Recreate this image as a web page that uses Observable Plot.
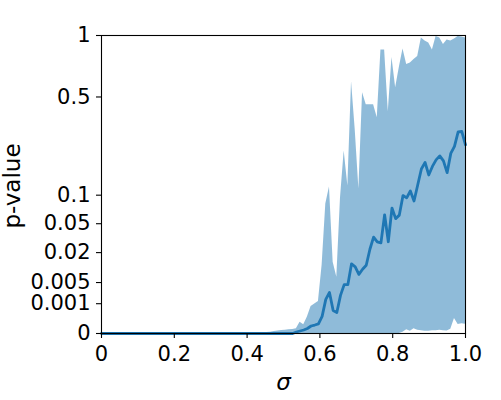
<!DOCTYPE html>
<html><head><meta charset="utf-8">
<script src="https://cdn.jsdelivr.net/npm/d3@7"></script>
<script src="https://cdn.jsdelivr.net/npm/@observablehq/plot@0.6"></script>
<style>html,body{margin:0;padding:0;background:#fff;}</style>
</head><body><div id="chart"></div>
<script>
const sigma = [
  0, 0.0101, 0.0202, 0.0303, 0.0404, 0.0505, 0.0606, 0.0707, 0.0808, 0.0909,
  0.1010, 0.1111, 0.1212, 0.1313, 0.1414, 0.1515, 0.1616, 0.1717, 0.1818, 0.1919,
  0.2020, 0.2121, 0.2222, 0.2323, 0.2424, 0.2525, 0.2626, 0.2727, 0.2828, 0.2929,
  0.3030, 0.3131, 0.3232, 0.3333, 0.3434, 0.3535, 0.3636, 0.3737, 0.3838, 0.3939,
  0.4040, 0.4141, 0.4242, 0.4343, 0.4444, 0.4545, 0.4646, 0.4747, 0.4848, 0.4949,
  0.5051, 0.5152, 0.5253, 0.5354, 0.5455, 0.5556, 0.5657, 0.5758, 0.5859, 0.5960,
  0.6061, 0.6162, 0.6263, 0.6364, 0.6465, 0.6566, 0.6667, 0.6768, 0.6869, 0.6970,
  0.7071, 0.7172, 0.7273, 0.7374, 0.7475, 0.7576, 0.7677, 0.7778, 0.7879, 0.7980,
  0.8081, 0.8182, 0.8283, 0.8384, 0.8485, 0.8586, 0.8687, 0.8788, 0.8889, 0.8990,
  0.9091, 0.9192, 0.9293, 0.9394, 0.9495, 0.9596, 0.9697, 0.9798, 0.9899, 1
];
const pMean = [
  0, 0, 0, 0, 0, 0, 0, 0, 0, 0,
  0, 0, 0, 0, 0, 0, 0, 0, 0, 0,
  0, 0, 0, 0, 0, 0, 0, 0, 0, 0,
  0, 0, 0, 0, 0, 0, 0, 0, 0, 0,
  0, 0, 0, 0, 0, 0, 0, 0, 0, 0,
  0, 0, 0, 1.3e-7, 6.0e-7, 1.6e-6, 4.8e-6, 1.6e-5, 2.3e-5, 3.3e-5,
  1.9e-4, 1.5e-3, 2.6e-3, 4.6e-4, 3.5e-4, 2.1e-3, 4.4e-3, 4.4e-3, 0.0128, 0.0112,
  0.0078, 0.0100, 0.0120, 0.0226, 0.0338, 0.0291, 0.0281, 0.0632, 0.0292, 0.0746,
  0.0573, 0.0627, 0.0992, 0.0943, 0.1093, 0.0878, 0.1237, 0.1684, 0.1892, 0.1506,
  0.1762, 0.1976, 0.2117, 0.1942, 0.1572, 0.2208, 0.2476, 0.3100, 0.3114, 0.2536
];
const pLow = [
  0, 0, 0, 0, 0, 0, 0, 0, 0, 0,
  0, 0, 0, 0, 0, 0, 0, 0, 0, 0,
  0, 0, 0, 0, 0, 0, 0, 0, 0, 0,
  0, 0, 0, 0, 0, 0, 0, 0, 0, 0,
  0, 0, 0, 0, 0, 0, 0, 0, 0, 0,
  0, 0, 0, 0, 0, 0, 0, 0, 0, 0,
  0, 0, 0, 0, 0, 0, 0, 0, 0, 0,
  0, 0, 0, 0, 0, 0, 0, 0, 0, 0,
  0, 0, 8e-8, 2.1e-6, 4.6e-7, 4.2e-6, 1.4e-6, 8.3e-7, 4.6e-7, 4.6e-7,
  8.3e-7, 8.3e-7, 1.4e-6, 8.3e-7, 6.6e-7, 3.0e-6, 1.28e-4, 2.75e-5, 3.56e-5, 3.04e-5
];
const pHigh = [
  0, 0, 0, 0, 0, 0, 0, 0, 0, 0,
  0, 0, 0, 0, 0, 0, 0, 0, 0, 0,
  0, 0, 0, 0, 0, 0, 0, 0, 0, 0,
  0, 0, 0, 0, 0, 0, 0, 0, 0, 0,
  0, 0, 0, 1e-9, 5e-9, 4e-8, 8e-8, 3e-7, 6e-7, 1.0e-6,
  1.25e-6, 1.9e-6, 2.4e-6, 4.0e-6, 5.5e-5, 2.5e-5, 1.7e-4, 7.5e-4, 9.8e-4, 1.25e-3,
  0.0120, 0.0819, 0.1188, 0.0137, 0.0067, 0.0939, 0.2301, 0.1212, 0.6036, 0.3193,
  0.1140, 0.5277, 0.4524, 0.4524, 0.4524, 0.3793, 0.8606, 0.8606, 0.4120, 0.7938,
  0.5613, 0.7103, 0.8697, 0.7347, 0.7472, 0.7766, 0.8025, 0.9749, 0.9455, 0.9261,
  0.8606, 0.99, 0.9749, 0.9118, 0.9552, 0.9455, 0.9651, 0.99, 0.9849, 0.9749
];
const xTicks = [0, 0.2, 0.4, 0.6, 0.8, 1.0];
const xTickLabels = ["0", "0.2", "0.4", "0.6", "0.8", "1.0"];
const yTicks = [0, 0.001, 0.005, 0.02, 0.05, 0.1, 0.5, 1];
const yTickLabels = ["0", "0.001", "0.005", "0.02", "0.05", "0.1", "0.5", "1"];
const xLabel = "σ";
const yLabel = "p-value";

const data = sigma.map((s, i) => ({s, mean: pMean[i], lo: pLow[i], hi: pHigh[i]}));
const blue = "#1f77b4";

const chart = Plot.plot({
  width: 501,
  height: 400,
  marginLeft: 101,
  marginRight: 36,
  marginTop: 35,
  marginBottom: 67,
  style: {fontFamily: "DejaVu Sans", fontSize: "21px", background: "white", color: "black", overflow: "visible"},
  x: {domain: [0, 1]},
  y: {type: "pow", exponent: 1 / 3, domain: [0, 1]},
  marks: [
    Plot.areaY(data, {x: "s", y1: "lo", y2: "hi", fill: blue, fillOpacity: 0.5}),
    Plot.lineY(data, {x: "s", y: "mean", stroke: blue, strokeWidth: 2.8}),
    Plot.frame({stroke: "black", strokeWidth: 1.1}),
    Plot.axisX({ticks: xTicks, tickFormat: d => xTickLabels[xTicks.indexOf(d)], tickSize: 5, tickPadding: 8, label: null, strokeWidth: 1.1, fontSize: 21}),
    Plot.axisY({ticks: yTicks, tickFormat: d => yTickLabels[yTicks.indexOf(d)], tickSize: 5, tickPadding: 6, label: null, strokeWidth: 1.1, fontSize: 21}),
    Plot.text([xLabel], {text: d => d, frameAnchor: "bottom", textAnchor: "middle", lineAnchor: "middle", dy: 49.6, fontStyle: "italic", fontSize: 23}),
    Plot.text([yLabel], {text: d => d, frameAnchor: "left", textAnchor: "middle", lineAnchor: "middle", dx: -89, dy: 1.5, rotate: -90, fontSize: 23})
  ]
});
document.getElementById("chart").appendChild(chart);
</script>
</body></html>
